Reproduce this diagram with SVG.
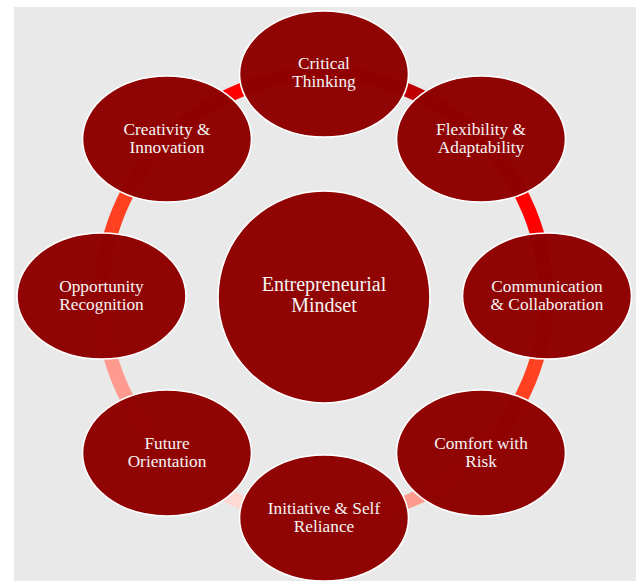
<svg xmlns="http://www.w3.org/2000/svg" width="636" height="583" viewBox="0 0 636 583">
<style>
.node{fill:#8f0000;fill-opacity:0.985;stroke:#ffffff;stroke-width:1.6}
.lbl{font-family:"Liberation Serif","Times New Roman",serif;font-size:17.3px;fill:#f4f4f4;text-anchor:middle}
.big{font-size:20px}
.seg{fill:none;stroke-width:14}
</style>
<rect x="0" y="0" width="636" height="583" fill="#ffffff"/>
<rect x="14" y="7" width="622" height="574" fill="#e9e9e9"/>
<g id="connectors">
<path class="seg" stroke="#c00000" d="M324 74 A222 222 0 0 1 480.98 139.02"/>
<path class="seg" stroke="#ff0000" d="M480.98 139.02 A222 222 0 0 1 546 296"/>
<path class="seg" stroke="#ff4122" d="M546 296 A222 222 0 0 1 480.98 452.98"/>
<path class="seg" stroke="#ff9a8e" d="M480.98 452.98 A222 222 0 0 1 324 518"/>
<path class="seg" stroke="#ffd9d3" d="M324 518 A222 222 0 0 1 167.02 452.98"/>
<path class="seg" stroke="#ff9a8e" d="M167.02 452.98 A222 222 0 0 1 102 296"/>
<path class="seg" stroke="#ff4122" d="M102 296 A222 222 0 0 1 167.02 139.02"/>
<path class="seg" stroke="#ff0000" d="M167.02 139.02 A222 222 0 0 1 324 74"/>
</g>
<g id="center">
<circle class="node" cx="324" cy="297" r="106"/>
<text class="lbl big" x="324" y="291">Entrepreneurial</text>
<text class="lbl big" x="324" y="312">Mindset</text>
</g>
<g id="critical-thinking">
<ellipse class="node" cx="324" cy="74" rx="84.5" ry="63"/>
<text class="lbl" x="324" y="69">Critical</text>
<text class="lbl" x="324" y="86.5">Thinking</text>
</g>
<g id="flexibility">
<ellipse class="node" cx="481" cy="139" rx="84.5" ry="63"/>
<text class="lbl" x="481" y="135">Flexibility &amp;</text>
<text class="lbl" x="481" y="152.5">Adaptability</text>
</g>
<g id="communication">
<ellipse class="node" cx="547" cy="296" rx="84.5" ry="63"/>
<text class="lbl" x="547" y="292">Communication</text>
<text class="lbl" x="547" y="309.5">&amp; Collaboration</text>
</g>
<g id="comfort-risk">
<ellipse class="node" cx="481" cy="453" rx="84.5" ry="63"/>
<text class="lbl" x="481" y="449">Comfort with</text>
<text class="lbl" x="481" y="466.5">Risk</text>
</g>
<g id="initiative">
<ellipse class="node" cx="324" cy="518" rx="84.5" ry="63"/>
<text class="lbl" x="324" y="514">Initiative &amp; Self</text>
<text class="lbl" x="324" y="531.5">Reliance</text>
</g>
<g id="future-orientation">
<ellipse class="node" cx="167" cy="453" rx="84.5" ry="63"/>
<text class="lbl" x="167" y="449">Future</text>
<text class="lbl" x="167" y="466.5">Orientation</text>
</g>
<g id="opportunity">
<ellipse class="node" cx="101.5" cy="296" rx="84.5" ry="63"/>
<text class="lbl" x="101.5" y="292">Opportunity</text>
<text class="lbl" x="101.5" y="309.5">Recognition</text>
</g>
<g id="creativity">
<ellipse class="node" cx="167" cy="139" rx="84.5" ry="63"/>
<text class="lbl" x="167" y="135">Creativity &amp;</text>
<text class="lbl" x="167" y="152.5">Innovation</text>
</g>
</svg>
